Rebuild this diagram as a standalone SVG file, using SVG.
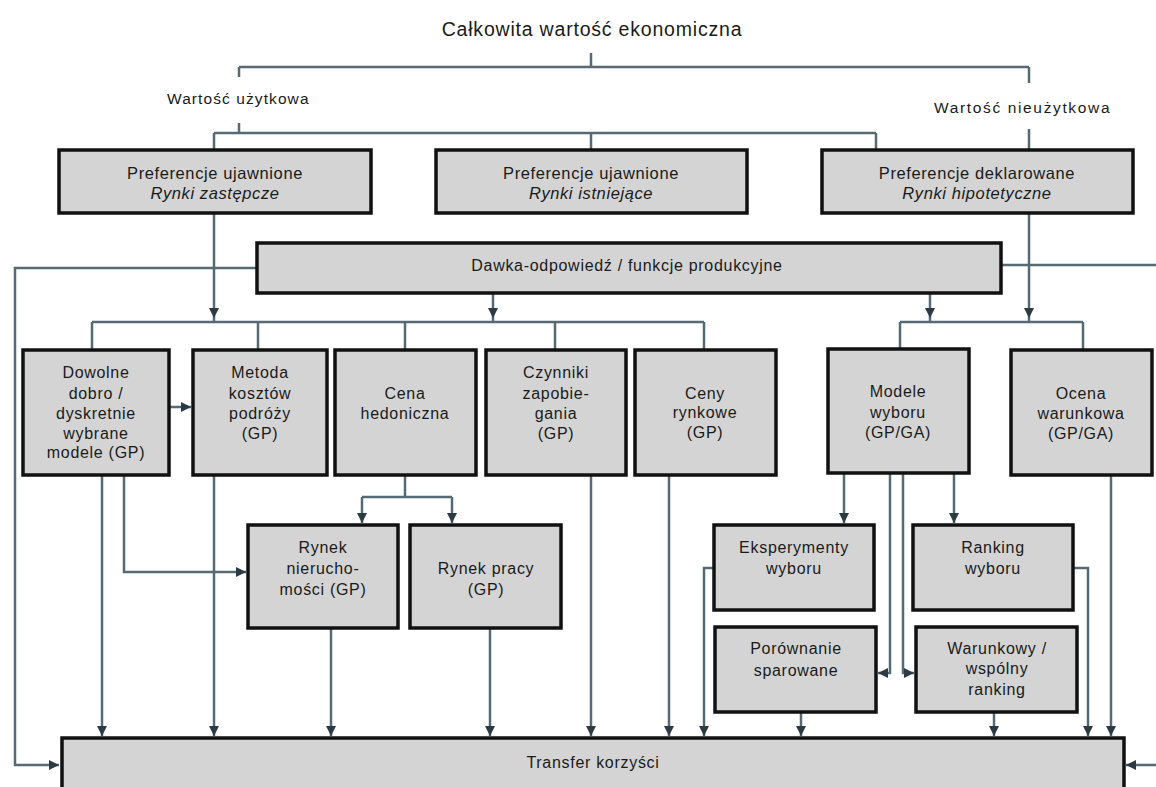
<svg xmlns="http://www.w3.org/2000/svg" width="1156" height="787" viewBox="0 0 1156 787">
<defs>
<marker id="ah" markerUnits="userSpaceOnUse" markerWidth="10" markerHeight="10" refX="8" refY="4" orient="auto" viewBox="0 0 8 8">
<path d="M0,0 L8,4 L0,8 z" fill="#2c3a44"/>
</marker>
<style>
.c{fill:none;stroke:#566a76;stroke-width:2.5}
.a{marker-end:url(#ah)}
.m{marker-mid:url(#ah)}
.b{fill:#d4d4d4;stroke:#111;stroke-width:3.5}
text{font-family:"Liberation Sans",Arial,sans-serif;fill:#1a1a1a;text-anchor:middle}
.t{font-size:16px;letter-spacing:0.7px}
.p{font-size:16.5px;letter-spacing:0.6px}
.i{font-style:italic}
.h{font-size:19.5px;letter-spacing:0.8px}
.l{font-size:15.5px;letter-spacing:0.5px}
</style>
</defs>
<rect width="1156" height="787" fill="#fff"/>

<g id="labels">
<text class="h" x="592" y="36">Całkowita wartość ekonomiczna</text>
<text class="l" x="238" y="104" textLength="142">Wartość użytkowa</text>
<text class="l" x="1022" y="113" textLength="176">Wartość nieużytkowa</text>
</g>

<g id="connectors">
<path class="c" d="M591,53 V67"/>
<path class="c" d="M239,67 H1029"/>
<path class="c" d="M239,67 V77"/>
<path class="c" d="M239,123 V133"/>
<path class="c" d="M1029,67 V83"/>
<path class="c m" d="M1029,129 V318 V322"/>
<path class="c" d="M214,133 H876"/>
<path class="c" d="M591,133 V150"/>
<path class="c" d="M876,133 V150"/>
<path class="c m" d="M214,133 V318 V322"/>
<path class="c a" d="M257,268 H15 V765 H59"/>
<path class="c" d="M1001,265 H1156"/>
<path class="c m" d="M493,293 V318 V322"/>
<path class="c m" d="M930,293 V318 V322"/>
<path class="c" d="M92,322 H704"/>
<path class="c" d="M92,322 V350 M258,322 V350 M405,322 V350 M555,322 V350 M704,322 V350"/>
<path class="c" d="M900,322 H1083 M900,322 V349 M1083,322 V350"/>
<path class="c a" d="M169,407 H191"/>
<path class="c a" d="M102,475 V736"/>
<path class="c a" d="M124,475 V572 H246"/>
<path class="c a" d="M214,475 V736"/>
<path class="c" d="M405,475 V497 M362,497 H452"/>
<path class="c a" d="M362,497 V523"/>
<path class="c a" d="M452,497 V523"/>
<path class="c a" d="M331,628 V736"/>
<path class="c a" d="M490,628 V736"/>
<path class="c a" d="M591,475 V736"/>
<path class="c a" d="M669,475 V736"/>
<path class="c a" d="M844,473 V523"/>
<path class="c a" d="M890,473 V673 H878"/>
<path class="c a" d="M903,473 V673 H914"/>
<path class="c a" d="M954,473 V523"/>
<path class="c a" d="M714,568 H704 V736"/>
<path class="c a" d="M801,712 V736"/>
<path class="c a" d="M994,712 V736"/>
<path class="c a" d="M1073,568 H1088 V736"/>
<path class="c a" d="M1111,475 V736"/>
<path class="c a" d="M1156,765 H1126"/>
</g>

<g id="pref1">
<rect class="b" x="59" y="150" width="312" height="63"/>
<text class="p" x="215" y="179">Preferencje ujawnione</text>
<text class="p i" x="215" y="199">Rynki zastępcze</text>
</g>
<g id="pref2">
<rect class="b" x="436" y="150" width="311" height="63"/>
<text class="p" x="591" y="179">Preferencje ujawnione</text>
<text class="p i" x="591" y="199">Rynki istniejące</text>
</g>
<g id="pref3">
<rect class="b" x="822" y="150" width="311" height="63"/>
<text class="p" x="977" y="179">Preferencje deklarowane</text>
<text class="p i" x="977" y="199">Rynki hipotetyczne</text>
</g>
<g id="dawka">
<rect class="b" x="257" y="243" width="744" height="50"/>
<text class="t" x="627" y="271">Dawka-odpowiedź / funkcje produkcyjne</text>
</g>
<g id="dowolne">
<rect class="b" x="23" y="350" width="146" height="125"/>
<text class="t" x="96" y="378">Dowolne</text>
<text class="t" x="96" y="399">dobro /</text>
<text class="t" x="96" y="419">dyskretnie</text>
<text class="t" x="96" y="439">wybrane</text>
<text class="t" x="96" y="458">modele (GP)</text>
</g>
<g id="metoda">
<rect class="b" x="193" y="350" width="134" height="125"/>
<text class="t" x="260" y="378">Metoda</text>
<text class="t" x="260" y="399">kosztów</text>
<text class="t" x="260" y="419">podróży</text>
<text class="t" x="260" y="439">(GP)</text>
</g>
<g id="cena">
<rect class="b" x="335" y="350" width="141" height="125"/>
<text class="t" x="405" y="399">Cena</text>
<text class="t" x="405" y="419">hedoniczna</text>
</g>
<g id="czynniki">
<rect class="b" x="486" y="350" width="140" height="125"/>
<text class="t" x="556" y="378">Czynniki</text>
<text class="t" x="556" y="399">zapobie-</text>
<text class="t" x="556" y="419">gania</text>
<text class="t" x="556" y="439">(GP)</text>
</g>
<g id="ceny">
<rect class="b" x="635" y="350" width="141" height="125"/>
<text class="t" x="705" y="399">Ceny</text>
<text class="t" x="705" y="418">rynkowe</text>
<text class="t" x="705" y="438">(GP)</text>
</g>
<g id="modele">
<rect class="b" x="828" y="349" width="141" height="124"/>
<text class="t" x="898" y="397">Modele</text>
<text class="t" x="898" y="418">wyboru</text>
<text class="t" x="898" y="438">(GP/GA)</text>
</g>
<g id="ocena">
<rect class="b" x="1011" y="350" width="141" height="125"/>
<text class="t" x="1081" y="399">Ocena</text>
<text class="t" x="1081" y="419">warunkowa</text>
<text class="t" x="1081" y="439">(GP/GA)</text>
</g>
<g id="rynek-nieruchomosci">
<rect class="b" x="248" y="525" width="150" height="103"/>
<text class="t" x="323" y="553">Rynek</text>
<text class="t" x="323" y="574">nierucho-</text>
<text class="t" x="323" y="595">mości (GP)</text>
</g>
<g id="rynek-pracy">
<rect class="b" x="410" y="525" width="151" height="103"/>
<text class="t" x="486" y="574">Rynek pracy</text>
<text class="t" x="486" y="595">(GP)</text>
</g>
<g id="eksperymenty">
<rect class="b" x="714" y="525" width="160" height="85"/>
<text class="t" x="794" y="553">Eksperymenty</text>
<text class="t" x="794" y="574">wyboru</text>
</g>
<g id="ranking">
<rect class="b" x="913" y="525" width="160" height="85"/>
<text class="t" x="993" y="553">Ranking</text>
<text class="t" x="993" y="574">wyboru</text>
</g>
<g id="porownanie">
<rect class="b" x="715" y="627" width="161" height="85"/>
<text class="t" x="796" y="654">Porównanie</text>
<text class="t" x="796" y="676">sparowane</text>
</g>
<g id="warunkowy">
<rect class="b" x="916" y="627" width="161" height="85"/>
<text class="t" x="997" y="654">Warunkowy /</text>
<text class="t" x="997" y="674">wspólny</text>
<text class="t" x="997" y="695">ranking</text>
</g>
<g id="transfer">
<rect class="b" x="62" y="738" width="1062" height="62"/>
<text class="t" x="593" y="768">Transfer korzyści</text>
</g>
</svg>
